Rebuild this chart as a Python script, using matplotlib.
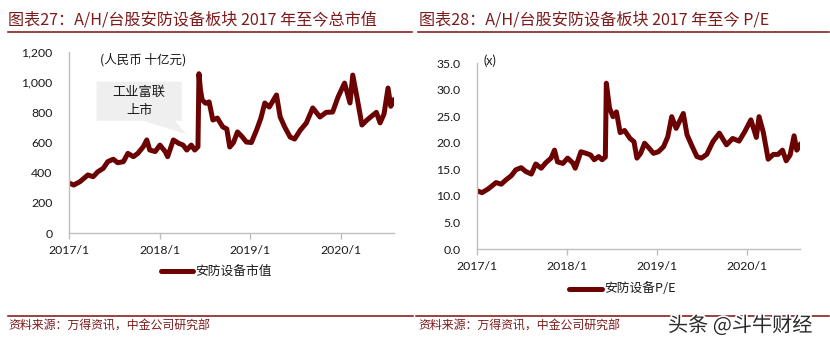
import matplotlib
matplotlib.use("Agg")
import matplotlib.pyplot as plt
import matplotlib.ticker as mticker
import matplotlib.patheffects as pe
from matplotlib.lines import Line2D
from matplotlib.patches import Polygon
import pandas as pd

plt.rcParams['font.family'] = ['Noto Sans CJK SC', 'DejaVu Sans']

dates = ["2017-01-03", "2017-01-20", "2017-02-14", "2017-03-18", "2017-04-08", "2017-04-27",
         "2017-05-19", "2017-06-06", "2017-06-28", "2017-07-16", "2017-08-08", "2017-08-26",
         "2017-09-17", "2017-10-05", "2017-10-27", "2017-11-10", "2017-11-22", "2017-12-14",
         "2018-01-02", "2018-01-23", "2018-02-02", "2018-02-25", "2018-03-18", "2018-04-05",
         "2018-04-20", "2018-05-08", "2018-05-22", "2018-06-04", "2018-06-08", "2018-06-14",
         "2018-06-21", "2018-07-05", "2018-07-19", "2018-08-03", "2018-08-21", "2018-09-12",
         "2018-09-28", "2018-10-10", "2018-10-25", "2018-11-10", "2018-11-28", "2018-12-16",
         "2019-01-05", "2019-01-26", "2019-02-12", "2019-02-28", "2019-03-18", "2019-04-16",
         "2019-05-01", "2019-05-20", "2019-06-10", "2019-06-28", "2019-07-20", "2019-08-14",
         "2019-09-09", "2019-10-08", "2019-11-02", "2019-11-28", "2019-12-20", "2020-01-15",
         "2020-02-06", "2020-02-17", "2020-03-05", "2020-03-25", "2020-04-15", "2020-05-04",
         "2020-05-22", "2020-06-06", "2020-06-22", "2020-07-08", "2020-07-19", "2020-08-01"]

market_cap = [330, 318, 340, 385, 373, 406,
              429, 473, 489, 466, 473, 528,
              506, 528, 572, 617, 550, 540,
              583, 540, 506, 617, 595, 583,
              550, 583, 550, 572, 1056, 950,
              882, 860, 869, 749, 762, 703,
              690, 570, 600, 670, 640, 603,
              600, 683, 760, 862, 835, 915,
              769, 700, 636, 623, 680, 729,
              829, 769, 800, 802, 902, 994,
              862, 1047, 900, 716, 750, 776,
              800, 730, 790, 961, 840, 880]

pe_ratio = [10.9, 10.6, 11.3, 12.5, 12.2, 13.0,
            13.8, 14.9, 15.3, 14.6, 14.1, 16.0,
            15.2, 16.2, 17.1, 18.6, 16.4, 16.1,
            17.1, 16.2, 15.2, 18.3, 18.0, 17.7,
            16.8, 17.4, 16.8, 17.3, 31.2, 29.0,
            26.5, 24.9, 25.8, 21.9, 22.3, 20.8,
            20.2, 17.1, 18.0, 19.9, 19.0, 18.0,
            18.3, 19.25, 21.1, 24.9, 22.7, 25.5,
            21.5, 19.5, 17.4, 17.1, 17.8, 20.2,
            21.8, 19.6, 20.8, 20.3, 22.0, 24.3,
            21.0, 24.9, 22.0, 16.9, 17.8, 17.8,
            18.6, 16.6, 17.7, 21.3, 18.6, 19.6]

xtick_dates = ["2017-01-01", "2018-01-01", "2019-01-01", "2020-01-01"]
xtick_labels = ["2017/1", "2018/1", "2019/1", "2020/1"]
left_yticks = [0, 200, 400, 600, 800, 1000, 1200]
right_yticks = [0, 5, 10, 15, 20, 25, 30, 35]

title_left = "图表27：A/H/台股安防设备板块 2017 年至今总市值"
title_right = "图表28：A/H/台股安防设备板块 2017 年至今 P/E"
unit_left = "(人民币 十亿元)"
unit_right = "(x)"
legend_left = "安防设备市值"
legend_right = "安防设备P/E"
callout = "工业富联\n上市"
source = "资料来源：万得资讯，中金公司研究部"
watermark = "头条 @斗牛财经"

LINE = "#6b0303"
TITLE = "#7d1a1a"
GRID = "#bfbfbf"
TXT = "#1a1a1a"

W, H = 830, 348
fig = plt.figure(figsize=(8.3, 3.48), dpi=100)

x = pd.to_datetime(dates)
xt = pd.to_datetime(xtick_dates)
xmin, xmax = pd.Timestamp("2017-01-01"), pd.Timestamp("2020-08-01")


def fx(px):
    return px / W


def fy(py):
    return 1 - py / H


def style_axes(ax):
    for s in ["top", "right"]:
        ax.spines[s].set_visible(False)
    for s in ["left", "bottom"]:
        ax.spines[s].set_color(GRID)
        ax.spines[s].set_linewidth(1.0)
    ax.set_xlim(xmin, xmax)
    ax.set_xticks(xt)
    ax.set_xticklabels(xtick_labels, family=["Lato", "DejaVu Sans"], fontsize=8.8, color=TXT)
    ax.tick_params(axis="x", direction="out", length=4, width=1, color=GRID, pad=5)
    ax.tick_params(axis="y", length=0, labelsize=8.8, colors=TXT)
    for lab in ax.get_yticklabels():
        lab.set_family(["Lato", "DejaVu Sans"])


# Left chart
axL = fig.add_axes([fx(69), fy(233), fx(394 - 69), (233 - 52) / H])
axL.plot(x, market_cap, color=LINE, lw=3.6, solid_joinstyle="round")
axL.set_ylim(0, 1200)
axL.set_yticks(left_yticks)
axL.yaxis.set_major_formatter(mticker.FuncFormatter(lambda v, p: f"{int(v):,}"))
axL.tick_params(axis="y", pad=12)
style_axes(axL)
axL.text(0.095, 0.955, unit_left, transform=axL.transAxes, fontsize=9,
         va="center", ha="left", color=TXT)

# Callout box
box = Polygon([(0.085, 0.836), (0.347, 0.836), (0.347, 0.620), (0.326, 0.620),
               (0.36, 0.547), (0.228, 0.620), (0.085, 0.620)],
              closed=True, transform=axL.transAxes, facecolor="#efefef",
              edgecolor="none", zorder=1)
axL.add_patch(box)
axL.text(0.216, 0.728, callout, transform=axL.transAxes, fontsize=9.5,
         ha="center", va="center", color=TXT, linespacing=1.5, zorder=2)

# Right chart
axR = fig.add_axes([fx(477.3), fy(249), fx(800 - 477.3), (249 - 63) / H])
axR.plot(x, pe_ratio, color=LINE, lw=3.6, solid_joinstyle="round")
axR.set_ylim(0, 35)
axR.set_yticks(right_yticks)
axR.yaxis.set_major_formatter(mticker.FormatStrFormatter("%.1f"))
axR.tick_params(axis="y", pad=12)
style_axes(axR)
axR.text(0.018, 1.012, unit_right, transform=axR.transAxes, fontsize=9,
         va="center", ha="left", color=TXT, family=["Lato", "DejaVu Sans"])

# Legends (drawn manually in figure coords)
fig.add_artist(Line2D([fx(161), fx(193)], [fy(271), fy(271)], color=LINE, lw=3.6,
                      solid_capstyle="round", transform=fig.transFigure))
fig.text(fx(195), fy(271), legend_left, fontsize=9.2, va="center", ha="left", color=TXT)
fig.add_artist(Line2D([fx(569), fx(602)], [fy(289), fy(289)], color=LINE, lw=3.6,
                      solid_capstyle="round", transform=fig.transFigure))
fig.text(fx(604), fy(289), legend_right, fontsize=9.2, va="center", ha="left", color=TXT)

# Titles and rules
fig.text(fx(8), fy(20), title_left, fontsize=11.6, va="center", ha="left", color=TITLE,
         style="italic")
fig.text(fx(419), fy(20), title_right, fontsize=11.6, va="center", ha="left", color=TITLE,
         style="italic")
for x0, x1, yy in [(8, 412, 31.5), (418, 829, 31.5), (8, 413, 316), (416, 829, 316)]:
    fig.add_artist(Line2D([fx(x0), fx(x1)], [fy(yy), fy(yy)], color="#7a0f0f", lw=1.1,
                          transform=fig.transFigure))

fig.text(fx(8), fy(326), source, fontsize=8.6, va="center", ha="left", color=TITLE,
         style="italic")
fig.text(fx(418), fy(326), source, fontsize=8.6, va="center", ha="left", color=TITLE,
         style="italic")

wm = fig.text(fx(668), fy(326), watermark, fontsize=14.5, va="center", ha="left",
              color="#2b2b2b")
wm.set_path_effects([pe.withStroke(linewidth=2.5, foreground="white")])

fig.savefig("out.png", dpi=100)
